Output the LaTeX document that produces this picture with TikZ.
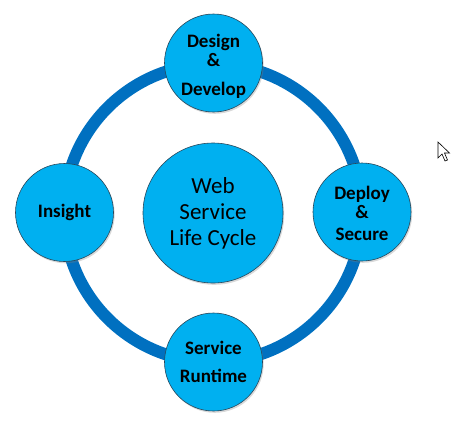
\documentclass[tikz,border=0pt]{standalone}
\usepackage{fontspec}
\setmainfont{Carlito}
\usetikzlibrary{shadows}
\definecolor{ringblue}{RGB}{0,112,192}
\definecolor{stageblue}{RGB}{0,176,240}
\definecolor{rimgray}{RGB}{40,70,90}
\begin{document}
\begin{tikzpicture}[
        x=1pt, y=-1pt,
        stage/.style={circle, draw=rimgray, line width=0.6pt, fill=stageblue, inner sep=0pt,
            minimum size=98pt, align=center, font=\fontsize{19}{19}\selectfont\bfseries,
            drop shadow={opacity=0.3, shadow xshift=1.2pt, shadow yshift=-1.8pt}},
        hub/.style={stage, minimum size=140pt, font=\fontsize{23}{26}\selectfont},
        ring/.style={draw=ringblue, line width=12pt}
    ]
        \useasboundingbox (0,0) rectangle (455,424);

        % Cycle
        \coordinate (mid) at (213,213);
        \path[ring] (mid) circle[radius=149pt];
        \node[hub] (cycle) at (mid) {Web\\Service\\Life Cycle};

        % Stages
        \node[stage] (design) at (213.5,63) {\rule{0pt}{19pt}Design\\\&\\[10pt]Develop};
        \node[stage] (deploy) at (362,212) {\rule{0pt}{17pt}Deploy\\\&\\[3pt]Secure};
        \node[stage] (runtime) at (213.5,362) {Service\\[9pt]Runtime};
        \node[stage] (insight) at (64.5,212.5) {Insight};

        % Pointer
        \draw[fill=white, line width=0.6pt, line join=miter]
            (438,142) -- (438,158) -- (442,154) -- (445,161) -- (447.5,160)
            -- (444.5,153) -- (449.5,153) -- cycle;
    \end{tikzpicture}
\end{document}
